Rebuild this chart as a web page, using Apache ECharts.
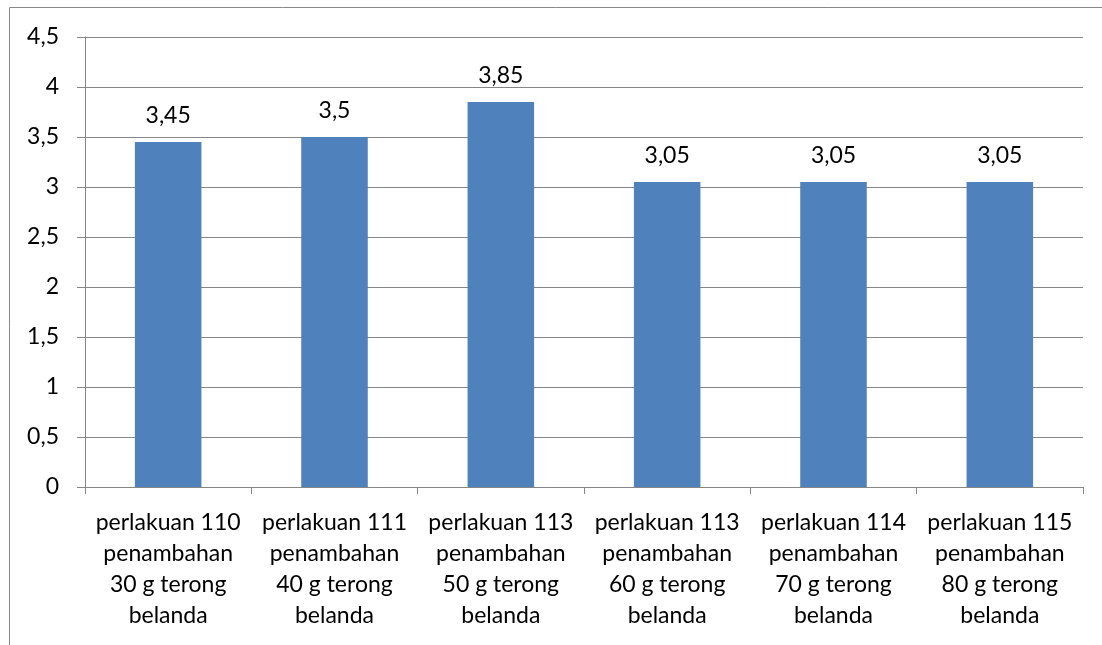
<!DOCTYPE html>
<html><head><meta charset="utf-8">
<script src="https://cdn.jsdelivr.net/npm/echarts@6/dist/echarts.min.js"></script>
<style>html,body{margin:0;padding:0;background:#fff}#c{width:1102px;height:645px}</style>
</head><body><div id="c"></div>
<script>
const categories = [
  "perlakuan 110\npenambahan\n30 g terong\nbelanda",
  "perlakuan 111\npenambahan\n40 g terong\nbelanda",
  "perlakuan 113\npenambahan\n50 g terong\nbelanda",
  "perlakuan 113\npenambahan\n60 g terong\nbelanda",
  "perlakuan 114\npenambahan\n70 g terong\nbelanda",
  "perlakuan 115\npenambahan\n80 g terong\nbelanda"
];
const values = [3.45, 3.5, 3.85, 3.05, 3.05, 3.05];
const yTicks = [0, 0.5, 1, 1.5, 2, 2.5, 3, 3.5, 4, 4.5];

const fmt = v => String(v).replace('.', ',');
const FONT = 'Lato';
const FS = 23;
const chart = echarts.init(document.getElementById('c'), null, {renderer: 'canvas'});
chart.setOption({
  animation: false,
  backgroundColor: '#fff',
  graphic: [
    {type: 'line', shape: {x1: 9.5, y1: 7.5, x2: 1102, y2: 7.5}, style: {stroke: '#888', lineWidth: 1}},
    {type: 'line', shape: {x1: 9.5, y1: 7.5, x2: 9.5, y2: 645}, style: {stroke: '#888', lineWidth: 1}}
  ],
  grid: {left: 85, right: 19, top: 37, bottom: 158, containLabel: false},
  xAxis: {
    type: 'category',
    data: categories,
    axisLine: {lineStyle: {color: '#868686', width: 1}},
    axisTick: {show: true, length: 7, lineStyle: {color: '#868686'}, alignWithLabel: false},
    axisLabel: {color: '#000', fontFamily: FONT, fontSize: FS, lineHeight: 31, margin: 20, interval: 0}
  },
  yAxis: {
    type: 'value',
    min: 0, max: 4.5, interval: 0.5,
    axisLine: {show: true, lineStyle: {color: '#868686', width: 1}},
    axisTick: {show: true, length: 8, inside: false, lineStyle: {color: '#868686'}},
    splitLine: {show: true, lineStyle: {color: '#868686', width: 1}},
    axisLabel: {color: '#000', fontFamily: FONT, fontSize: FS, margin: 26,
      formatter: v => yTicks.includes(v) ? fmt(v) : ''}
  },
  series: [{
    type: 'bar',
    data: values,
    barWidth: '40%',
    itemStyle: {color: '#4F81BD'},
    label: {show: true, position: 'top', distance: 15, color: '#000', fontFamily: FONT, fontSize: FS,
      formatter: p => fmt(p.value)}
  }]
});
</script></body></html>
